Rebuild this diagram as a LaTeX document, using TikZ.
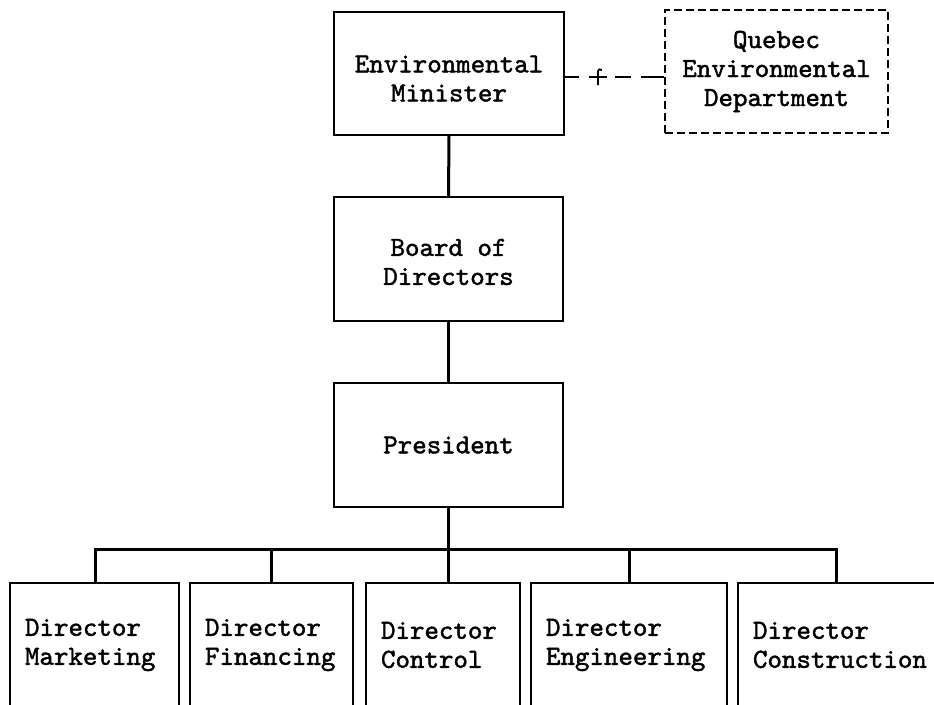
\documentclass[tikz,border=0pt]{standalone}
\usepackage{fontspec}
\newfontfamily\typew{lmmono10-regular}[Extension=.otf, FakeBold=1.6]
\begin{document}
\begin{tikzpicture}[x=1pt,y=-1pt,
  every node/.style={font=\typew\fontsize{27.6}{29}\selectfont},
  unit/.style={draw, line width=1.7pt, inner sep=0pt, align=center,
    minimum width=#1},
  unit/.default=229pt,
  director/.style={draw, line width=1.7pt, inner ysep=0pt, inner xsep=15pt,
    align=left, text width=#1-30pt, minimum height=124pt},
  link/.style={line width=3pt},
  liaison/.style={line width=1.8pt,
    dash pattern=on 14pt off 10pt on 18pt off 8pt on 16pt off 10pt on 30pt},
]
\useasboundingbox (0,0) rectangle (934,704);

% head of the organisation
\node[unit=230pt, minimum height=123pt, text height=56pt] (min) at (449,73.5)
  {Environmental\\Minister};
\node[unit=223pt, minimum height=123pt, dash pattern=on 8pt off 4pt] (que)
  at (776.5,71.5) {Quebec\\Environmental\\Department};
\node[unit, minimum height=124pt, text height=52pt] (board) at (448.5,259)
  {Board of\\Directors};
\node[unit, minimum height=124pt] (pres) at (448.5,445) {President};

% directors
\node[director=169pt] (mkt) at (94.5,645) {Director\\Marketing};
\node[director=163pt] (fin) at (271.5,645) {Director\\Financing};
\node[director=154pt] (ctl) at (443,645) {Director\\Control};
\node[director=196pt] (eng) at (629,645) {Director\\Engineering};
\node[director=222pt] (con) at (849,645) {Director\\Construction};

% chain of command
\draw[link] (min.south) -- (board.north);
\draw[link] (board.south) -- (pres.north);
\coordinate (busL) at (95,549);
\coordinate (busR) at (836,549);
\draw[link] (pres.south) -- (pres.south |- ctl.north);
\draw[link] (busL |- mkt.north) -- (busL) -- (busR) -- (busR |- con.north);
\draw[link] (fin.north |- busL) -- (fin.north);
\draw[link] (eng.north |- busL) -- (eng.north);

% liaison with the provincial department
\coordinate (tick) at (598,77);
\draw[liaison] (min.east |- tick) -- (que.west |- tick);
\draw[line width=1.8pt] ([yshift=-8pt]tick) -- ([yshift=6pt]tick)
  .. controls ([xshift=1pt,yshift=8pt]tick) .. ([xshift=4pt,yshift=7pt]tick);
\draw[line width=1.8pt] ([xshift=-9pt]tick) -- ([xshift=8pt]tick);
\end{tikzpicture}
\end{document}
